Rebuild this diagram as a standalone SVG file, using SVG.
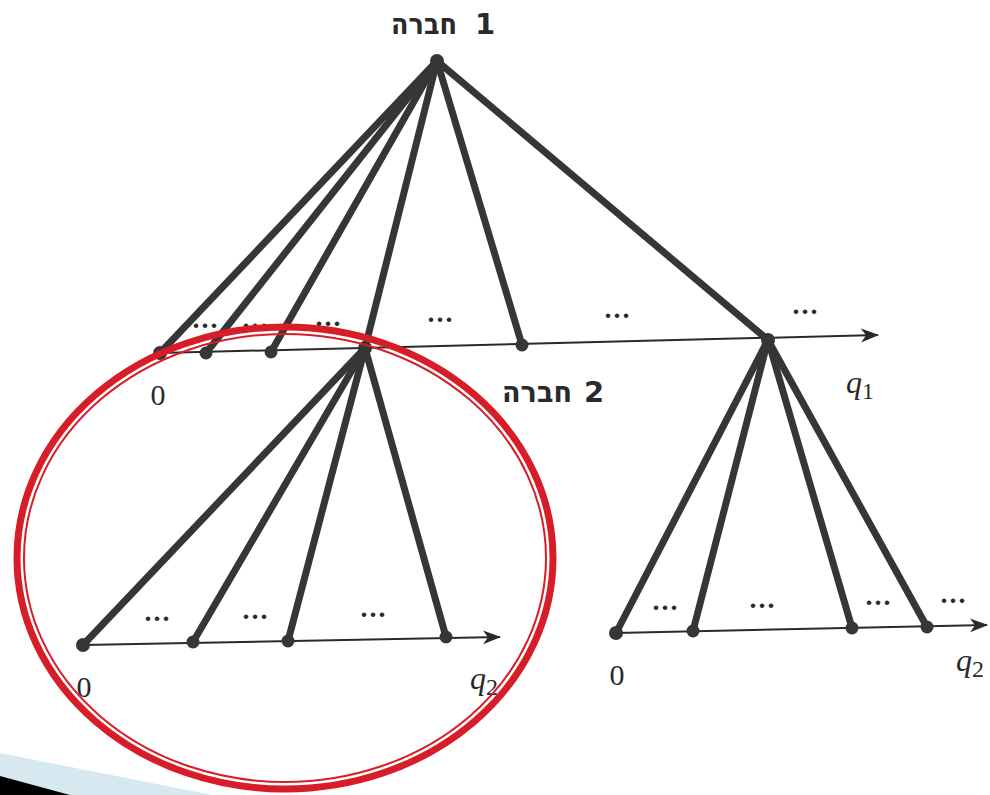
<svg xmlns="http://www.w3.org/2000/svg" width="990" height="795" viewBox="0 0 990 795">
<style>
.edge{stroke:#363636;stroke-width:7;stroke-linecap:round;fill:none}
.axis{stroke:#2a2a2a;stroke-width:2;fill:none}
.dot{fill:#363636}
.heb{font-family:"DejaVu Sans","Liberation Sans",sans-serif;font-weight:bold;font-size:29px;fill:#2a2a2a}
.num{font-family:"Liberation Serif",serif;font-size:30px;fill:#2a2a2a}
.var{font-family:"Liberation Serif",serif;font-style:italic;font-size:32px;fill:#2a2a2a}
.sub{font-family:"Liberation Serif",serif;font-size:24px;fill:#2a2a2a}
.ell{font-family:"Liberation Serif",serif;font-size:28px;font-weight:bold;fill:#2a2a2a;letter-spacing:2px}
</style>
<defs>
<marker id="arr" markerUnits="userSpaceOnUse" markerWidth="20" markerHeight="16" refX="17" refY="7" orient="auto" viewBox="0 0 20 16">
<path d="M0,0 L18,7 L0,14 L5,7 z" fill="#2a2a2a"/>
</marker>
</defs>
<rect width="990" height="795" fill="#ffffff"/>
<g id="corner">
<polygon points="0,753 212,795 0,795" fill="#d6e8f0"/>
<polygon points="0,776 70,795 0,795" fill="#000000"/>
</g>
<g id="connectors">
<line class="axis" x1="160" y1="353" x2="878" y2="335" marker-end="url(#arr)"/>
<line class="axis" x1="83" y1="645" x2="500" y2="637" marker-end="url(#arr)"/>
<line class="axis" x1="616" y1="633" x2="987" y2="625" marker-end="url(#arr)"/>
<line class="edge" x1="437" y1="61" x2="160" y2="353"/>
<line class="edge" x1="437" y1="61" x2="206" y2="353"/>
<line class="edge" x1="437" y1="61" x2="271" y2="352"/>
<line class="edge" x1="437" y1="61" x2="365" y2="348"/>
<line class="edge" x1="437" y1="61" x2="522" y2="345"/>
<line class="edge" x1="437" y1="61" x2="768" y2="340"/>
<line class="edge" x1="365" y1="348" x2="83" y2="645"/>
<line class="edge" x1="365" y1="348" x2="193" y2="642"/>
<line class="edge" x1="365" y1="348" x2="288" y2="641"/>
<line class="edge" x1="365" y1="348" x2="446" y2="637"/>
<line class="edge" x1="768" y1="340" x2="616" y2="633"/>
<line class="edge" x1="768" y1="340" x2="693" y2="631"/>
<line class="edge" x1="768" y1="340" x2="852" y2="628"/>
<line class="edge" x1="768" y1="340" x2="927" y2="627"/>
</g>
<g id="firm1">
<circle class="dot" cx="437" cy="61" r="7"/>
<text class="heb" y="34"><tspan x="391" textLength="66" lengthAdjust="spacingAndGlyphs">חברה</tspan><tspan x="465"> 1</tspan></text>
</g>
<g id="q1-axis-nodes">
<circle class="dot" cx="160" cy="353" r="7"/>
<circle class="dot" cx="206" cy="353" r="6.5"/>
<circle class="dot" cx="271" cy="352" r="6.5"/>
<circle class="dot" cx="522" cy="345" r="6.5"/>
<text class="num" x="158" y="405" text-anchor="middle">0</text>
<text class="var" x="846" y="393">q<tspan class="sub" dy="6" font-style="normal">1</tspan></text>
<text class="ell" x="206" y="328" text-anchor="middle">...</text>
<text class="ell" x="256" y="328" text-anchor="middle">...</text>
<text class="ell" x="329" y="326" text-anchor="middle">...</text>
<text class="ell" x="441" y="322" text-anchor="middle">...</text>
<text class="ell" x="618" y="318" text-anchor="middle">...</text>
<text class="ell" x="806" y="314" text-anchor="middle">...</text>
</g>
<g id="firm2-left">
<circle class="dot" cx="365" cy="348" r="7"/>
<text class="heb" y="402"><tspan x="502" textLength="70" lengthAdjust="spacingAndGlyphs">חברה</tspan><tspan x="574"> 2</tspan></text>
<circle class="dot" cx="83" cy="645" r="7"/>
<circle class="dot" cx="193" cy="642" r="6.5"/>
<circle class="dot" cx="288" cy="641" r="6.5"/>
<circle class="dot" cx="446" cy="637" r="6.5"/>
<text class="ell" x="158" y="621" text-anchor="middle">...</text>
<text class="ell" x="256" y="619" text-anchor="middle">...</text>
<text class="ell" x="374" y="617" text-anchor="middle">...</text>
<text class="num" x="84" y="697" text-anchor="middle">0</text>
<text class="var" x="470" y="689">q<tspan class="sub" dy="6" font-style="normal">2</tspan></text>
</g>
<g id="firm2-right">
<circle class="dot" cx="768" cy="340" r="7"/>
<circle class="dot" cx="616" cy="633" r="7"/>
<circle class="dot" cx="693" cy="631" r="6.5"/>
<circle class="dot" cx="852" cy="628" r="6.5"/>
<circle class="dot" cx="927" cy="627" r="6.5"/>
<text class="ell" x="666" y="610" text-anchor="middle">...</text>
<text class="ell" x="763" y="608" text-anchor="middle">...</text>
<text class="ell" x="879" y="605" text-anchor="middle">...</text>
<text class="ell" x="954" y="603" text-anchor="middle">...</text>
<text class="num" x="617" y="685" text-anchor="middle">0</text>
<text class="var" x="956" y="671">q<tspan class="sub" dy="6" font-style="normal">2</tspan></text>
</g>
<g id="highlight">
<ellipse cx="285" cy="558" rx="268" ry="231" fill="none" stroke="#d71d27" stroke-width="7"/>
<ellipse cx="285" cy="558" rx="261" ry="224" fill="none" stroke="#d71d27" stroke-width="2"/>
</g>
</svg>
